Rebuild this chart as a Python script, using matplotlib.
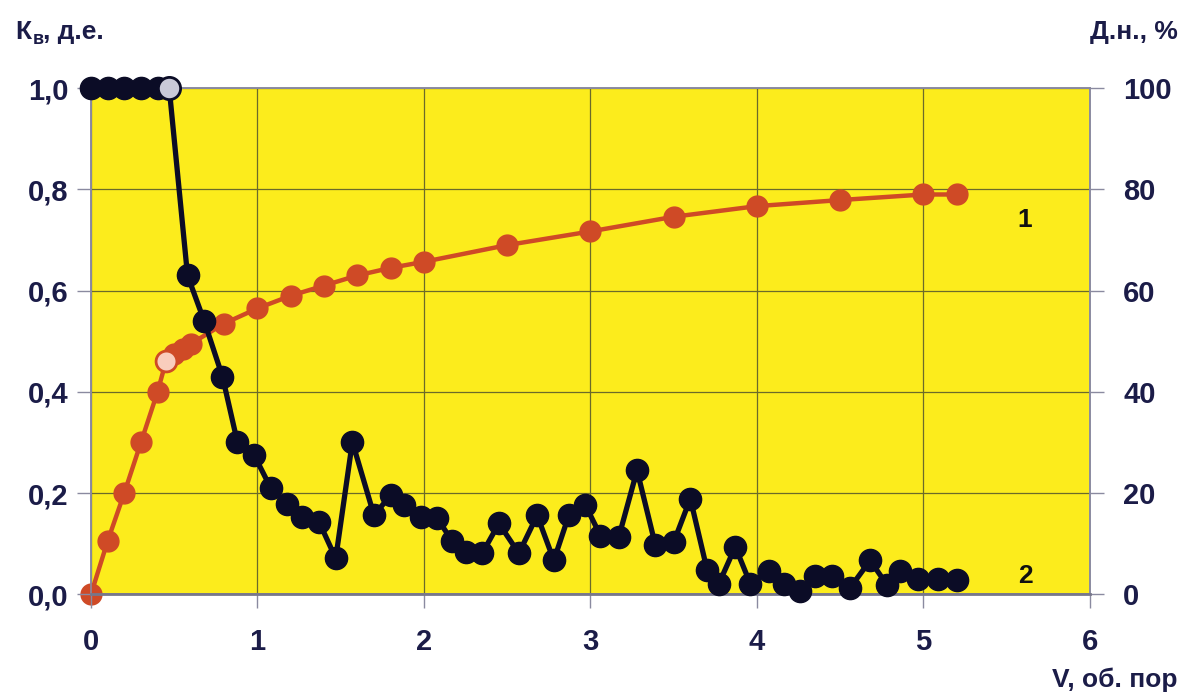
import numpy as np
import matplotlib.pyplot as plt
from matplotlib.ticker import FuncFormatter

# -------------------------------
# Data
# -------------------------------

# curve 1: Д.н., % (right axis)
v_dn = [0, 0.1, 0.2, 0.3, 0.4, 0.45, 0.5, 0.55, 0.6, 0.8, 1.0, 1.2, 1.4,
        1.6, 1.8, 2.0, 2.5, 3.0, 3.5, 4.0, 4.5, 5.0, 5.2]
dn = [0, 10.5, 20, 30, 40, 46, 47.5, 48.5, 49.5, 53.5, 56.5, 59, 61,
      63, 64.5, 65.7, 69, 71.7, 74.6, 76.7, 77.9, 79, 79]
dn_mark_idx = 5  # light (pink) point

# curve 2: Кв, д.е. (left axis)
v_kv = [0, 0.1, 0.2, 0.3, 0.4, 0.47, 0.58, 0.68, 0.79, 0.88, 0.98, 1.08,
        1.18, 1.27, 1.37, 1.47, 1.57, 1.70, 1.80, 1.88, 1.98, 2.08, 2.17,
        2.25, 2.35, 2.45, 2.57, 2.68, 2.78, 2.87, 2.97, 3.06, 3.17, 3.28,
        3.39, 3.50, 3.60, 3.70, 3.77, 3.87, 3.96, 4.07, 4.16, 4.26, 4.35,
        4.45, 4.56, 4.68, 4.78, 4.86, 4.97, 5.09, 5.20]
kv = [1, 1, 1, 1, 1, 1, 0.63, 0.54, 0.43, 0.30, 0.275, 0.21,
      0.178, 0.153, 0.143, 0.071, 0.301, 0.156, 0.196, 0.176, 0.153, 0.15, 0.105,
      0.084, 0.081, 0.14, 0.081, 0.156, 0.067, 0.156, 0.176, 0.116, 0.113, 0.245,
      0.097, 0.103, 0.189, 0.049, 0.02, 0.094, 0.021, 0.046, 0.02, 0.006, 0.036,
      0.036, 0.013, 0.067, 0.019, 0.047, 0.031, 0.031, 0.028]
kv_mark_idx = 5  # light (grey) point

x_ticks = [0, 1, 2, 3, 4, 5, 6]
kv_ticks = [0, 0.2, 0.4, 0.6, 0.8, 1.0]
dn_ticks = [0, 20, 40, 60, 80, 100]

# -------------------------------
# Styles
# -------------------------------
yellow = '#fcec1c'
red = '#cf4a26'
dark = '#0b0c26'
navy = '#1b1c48'
grid_c = '#6b6a2a'
spine_c = '#8a8aa0'

plt.rcParams['font.family'] = ['Liberation Sans', 'DejaVu Sans']

fig = plt.figure(figsize=(11.86, 7.0), dpi=100)
ax = fig.add_axes([0.0767, 0.151, 0.8423, 0.723])
ax2 = ax.twinx()

# yellow area + grid live on ax2 (drawn below), black curve on ax (on top)
ax.set_zorder(ax2.get_zorder() + 1)
ax.patch.set_visible(False)
ax2.patch.set_visible(True)
ax2.set_facecolor(yellow)
ax2.xaxis.set_visible(True)
ax2.tick_params(axis='x', bottom=False, top=False, labelbottom=False, labeltop=False)

ax.set_xlim(0, 6)
ax.set_ylim(0, 1)
ax2.set_ylim(0, 100)

ax.set_xticks(x_ticks)
ax.set_yticks(kv_ticks)
ax2.set_yticks(dn_ticks)
ax.yaxis.set_major_formatter(FuncFormatter(lambda v, p: f"{v:.1f}".replace('.', ',')))

ax2.set_axisbelow(True)
ax2.grid(True, axis='both', color=grid_c, linewidth=0.9)

# curve 1 (red)
ax2.plot(v_dn, dn, color=red, linewidth=3.2, marker='o', markersize=15,
         markerfacecolor=red, markeredgecolor=red, clip_on=False, zorder=3)
ax2.plot(v_dn[dn_mark_idx], dn[dn_mark_idx], marker='o', markersize=15,
         markerfacecolor='#f9cdbd', markeredgecolor=red, markeredgewidth=2,
         linestyle='none', clip_on=False, zorder=4)

# curve 2 (black)
ax.plot(v_kv, kv, color=dark, linewidth=3.8, marker='o', markersize=16,
        markerfacecolor=dark, markeredgecolor=dark, clip_on=False, zorder=3)
ax.plot(v_kv[kv_mark_idx], kv[kv_mark_idx], marker='o', markersize=16,
        markerfacecolor='#c9c9d8', markeredgecolor=dark, markeredgewidth=2,
        linestyle='none', clip_on=False, zorder=4)

# ticks and spines
for a in (ax, ax2):
    for s in a.spines.values():
        s.set_color(spine_c)
        s.set_linewidth(1.2)
ax.spines['bottom'].set_linewidth(2)
ax.spines['bottom'].set_color('#77778a')
ax.tick_params(axis='both', direction='out', length=10, width=1, color=spine_c,
               labelsize=21, labelcolor=navy, pad=6)
ax.tick_params(axis='x', pad=14)
ax2.tick_params(axis='y', direction='out', length=10, width=1, color=spine_c,
                labelsize=21, labelcolor=navy, pad=14)
for lab in ax.get_xticklabels() + ax.get_yticklabels() + ax2.get_yticklabels():
    lab.set_fontweight('bold')

# curve numbers
ax.text(5.61, 0.74, '1', fontsize=19, fontweight='bold', color='#111111',
        ha='center', va='center')
ax.text(5.61, 0.037, '2', fontsize=19, fontweight='bold', color='#111111',
        ha='center', va='center')

# axis titles
fig.text(15 / 1186, 1 - 32 / 700, 'К', fontsize=19, fontweight='bold', color=navy,
         ha='left', va='center')
fig.text(33 / 1186, 1 - 40 / 700, 'в', fontsize=13, fontweight='bold', color=navy,
         ha='left', va='center')
fig.text(43 / 1186, 1 - 32 / 700, ', д.е.', fontsize=19, fontweight='bold', color=navy,
         ha='left', va='center')
fig.text(1178 / 1186, 1 - 32 / 700, 'Д.н., %', fontsize=19, fontweight='bold',
         color=navy, ha='right', va='center')
fig.text(1178 / 1186, 1 - 680 / 700, 'V, об. пор', fontsize=19, fontweight='bold',
         color=navy, ha='right', va='center')

fig.savefig('out.png', dpi=100, facecolor='white')
